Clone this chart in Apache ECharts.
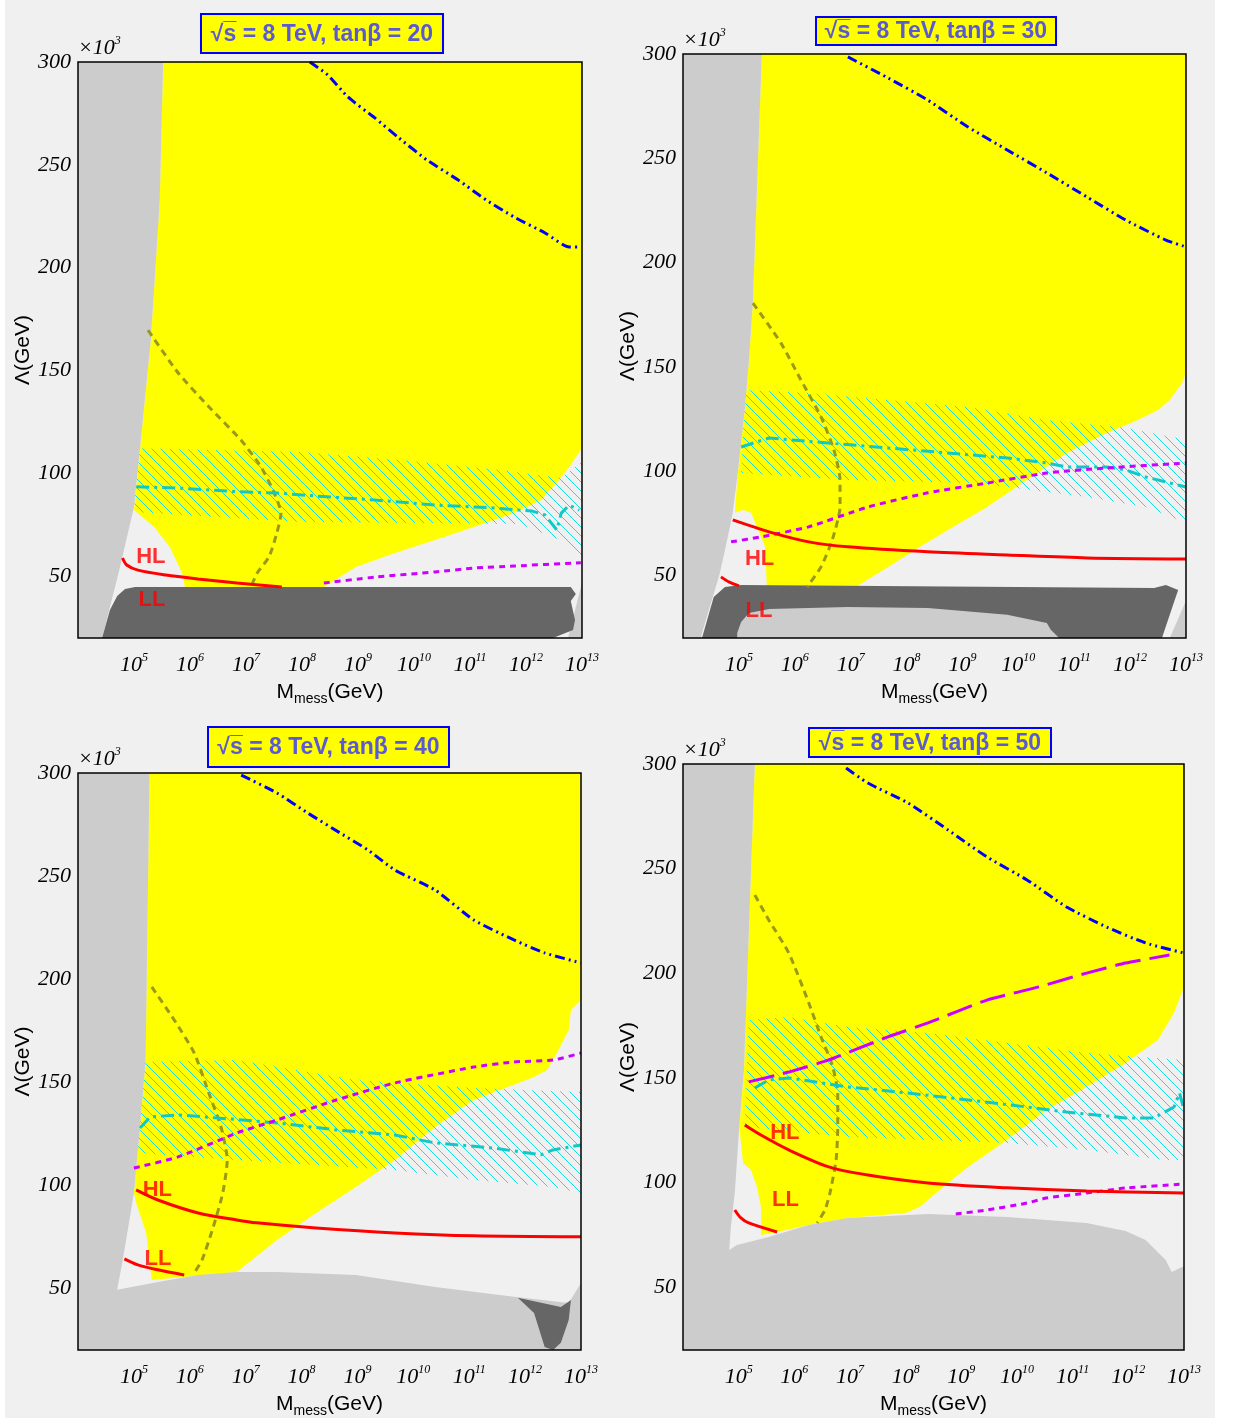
<!DOCTYPE html>
<html><head><meta charset="utf-8">
<script src="https://cdn.jsdelivr.net/npm/echarts@6/dist/echarts.min.js"></script>
<style>html,body{margin:0;padding:0;background:#fff}#c{width:1233px;height:1420px}</style>
</head><body><div id="c"></div>
<script>
// ---------- tick labels / categories ----------
const xTickExps = [5,6,7,8,9,10,11,12,13];
const yTicks = [50,100,150,200,250,300];
const panelTitles = ['20','30','40','50'];

// ---------- Panel 1 (tanβ = 20) ----------
const p1Grey = [[4,300],[5.52,300],[5.46,232.9],[5.30,164.9],[5.14,121.1],[5.0,83.7],[4.725,51.6],[4.43,20],[4,20]];
const p1GreyRight = [[12.75,20],[13,47],[13,20]];
const p1Dark = [[4.43,20],[4.57,33.6],[4.70,40.4],[4.84,43.8],[5.02,44.8],[12.80,44.8],[12.89,41.4],[12.80,38.0],[12.875,28.7],[12.84,23.9],[12.48,20]];
const p1Hole = [];
const p1Yellow = [[5.52,300],[13,300],[13,112.3],[12.77,103.1],[12.59,96.8],[12.27,87.1],[11.79,80.8],[11.07,73.9],[10.375,67.6],[9.66,61.3],[8.96,54.5],[8.39,44.8],[5.91,44.8],[5.86,51.6],[5.64,64.2],[5.36,73.9],[5.0,82.2],[5.14,121.1],[5.30,164.9],[5.46,232.9]];
const p1Hatch = [[5.04,112.3],[7.96,110.4],[9.75,106.5],[11.54,101.7],[12.61,97.8],[13,105.5],[13,59.8],[12.61,67.6],[11.89,75.4],[7.96,76.4],[5.0,81.2]];
const p1Blue = [[8.14,300],[8.46,293.7],[8.82,283.0],[9.30,272.8],[9.73,263.1],[10.23,252.4],[10.79,242.6],[11.29,232.9],[11.79,224.6],[12.34,216.9],[12.77,210.1],[12.98,210.1]];
const p1Olive = [[5.25,169.7],[5.79,148.8],[6.34,132.3],[6.91,116.2],[7.27,103.1],[7.48,91.9],[7.625,80.7],[7.55,71.0],[7.41,59.4],[7.20,51.6],[7.09,44.8]];
const p1Cyan = [[5.04,93.5],[5.79,92.9],[6.84,91.1],[7.55,90.5],[8.25,89.0],[9.30,87.1],[10.375,84.6],[11.43,83.2],[12.11,81.7],[12.34,79.8],[12.55,72.5],[12.63,80.7],[12.77,84.6],[12.95,82.2]];
const p1Magenta = [[8.39,46.7],[9.30,49.6],[10.375,52.1],[11.07,54.0],[11.79,55.0],[12.98,56.6]];
const p1MagentaLong = [];
const p1HL = [[4.795,58.9],[4.87,55.5],[5.07,53.0],[5.57,50.6],[6.14,48.7],[6.84,46.7],[7.64,44.8]];
const p1LL = [];
const p1Text = [[5.30,59.6,'HL'],[5.32,38.7,'LL']];

// ---------- Panel 2 (tanβ = 30) ----------
const p2Grey = [[4,300],[5.41,300],[5.25,180.6],[5.18,153.3],[5.11,130.8],[4.98,99.1],[4.89,80.0],[4.79,67.0],[4.66,51.2],[4.57,43.0],[4.34,22.4],[4.32,20],[4,20]];
const p2GreyRight = [[12.71,20],[13,37.8],[13,20]];
const p2Dark = [[4.34,20],[4.55,39.7],[4.75,44.5],[5.04,45.4],[12.43,44.0],[12.64,45.4],[12.86,43.0],[12.78,36.8],[12.57,20]];
const p2Hole = [[4.97,20],[4.97,22.4],[5.04,27.7],[5.18,32.0],[5.54,33.9],[6.95,34.9],[8.38,34.4],[9.80,31.1],[10.51,27.2],[10.58,23.9],[10.73,20]];
const p2Yellow = [[5.41,300],[13,300],[13,147.1],[12.93,142.3],[12.71,134.1],[12.50,129.3],[12.14,124.5],[11.58,118.3],[10.87,108.7],[10.15,95.8],[9.44,82.8],[8.74,71.8],[8.24,63.7],[7.67,54.1],[7.09,44.5],[5.50,44.5],[5.47,63.7],[5.32,73.3],[5.22,80.0],[5.07,81.4],[4.93,80.0],[4.98,99.1],[5.11,130.8],[5.18,153.3],[5.25,180.6]];
const p2Hatch = [[5.11,138.9],[6.25,137.5],[7.67,134.1],[9.10,130.8],[10.51,124.5],[11.94,120.7],[13,115.0],[13,75.2],[12.28,82.8],[11.23,87.6],[9.80,92.4],[9.10,94.3],[6.95,95.8],[5.04,99.1]];
const p2Blue = [[6.95,298.6],[7.67,288.5],[8.38,277.9],[9.10,265.0],[9.80,254.0],[10.51,243.0],[11.23,231.4],[11.92,220.4],[12.64,210.8],[13,207.5]];
const p2Olive = [[5.25,180.6],[5.75,161.5],[6.11,143.7],[6.47,126.0],[6.70,110.2],[6.81,95.8],[6.81,82.8],[6.67,67.0],[6.47,54.1],[6.22,44.5]];
const p2Cyan = [[5.04,111.6],[5.54,115.9],[6.59,113.5],[7.67,111.1],[8.74,108.7],[9.80,106.3],[10.51,103.9],[10.87,102.0],[11.58,102.0],[11.92,100.6],[12.28,97.2],[13,92.4]];
const p2Magenta = [[4.86,66.1],[5.40,68.5],[6.25,73.3],[7.31,82.8],[8.38,89.6],[9.44,94.3],[10.51,99.1],[11.58,101.5],[13,103.9]];
const p2MagentaLong = [];
const p2HL = [[4.89,76.6],[5.54,70.9],[6.25,66.1],[6.95,63.7],[8.38,61.3],[9.80,59.8],[11.23,58.4],[13,57.9]];
const p2LL = [[4.68,49.3],[4.82,46.9],[5.0,45.0]];
const p2Text = [[5.37,58.1,'HL'],[5.36,33.2,'LL']];

// ---------- Panel 3 (tanβ = 40) ----------
const p3Grey = [[4,300],[5.28,300],[5.21,160.7],[5.11,128.2],[5.0,96.2],[4.90,79.7],[4.80,63.7],[4.70,49.2],[5.43,53.0],[6.15,56.4],[6.84,57.9],[7.56,57.9],[8.97,56.4],[10.39,50.6],[11.80,45.8],[12.78,42.8],[13,52.5],[13,20],[4,20]];
const p3GreyRight = [];
const p3Dark = [[11.87,45.3],[12.64,40.9],[12.82,44.3],[12.78,34.6],[12.64,23.5],[12.50,20],[12.35,21.5],[12.16,37.9]];
const p3Hole = [];
const p3Yellow = [[5.28,300],[13,300],[13,189.9],[12.82,185.0],[12.78,175.3],[12.57,164.1],[12.39,155.9],[12.16,152.5],[11.08,141.3],[10.39,128.2],[9.67,112.2],[8.97,99.1],[8.26,86.5],[7.56,73.4],[6.84,57.9],[5.32,54.0],[5.22,76.8],[5.04,91.4],[5.0,96.2],[5.11,128.2],[5.21,160.7]];
const p3Hatch = [[5.14,159.8],[6.84,160.7],[8.97,151.0],[11.08,147.2],[13,145.2],[13,96.2],[12.50,99.1],[11.08,102.5],[9.67,107.4],[6.84,112.2],[5.07,115.6]];
const p3Blue = [[6.92,299.0],[7.56,290.3],[8.11,280.6],[8.69,270.9],[9.19,262.6],[9.67,252.9],[10.39,243.2],[11.08,228.7],[11.80,219.0],[12.35,212.7],[13,207.8]];
const p3Olive = [[5.32,196.2],[5.72,180.2],[6.08,164.1],[6.34,144.7],[6.56,128.2],[6.67,112.2],[6.59,96.2],[6.42,79.7],[6.22,63.7],[6.08,57.4]];
const p3Cyan = [[5.11,127.7],[5.29,133.1],[5.79,134.1],[6.49,132.6],[7.56,130.2],[8.62,126.8],[9.67,124.3],[10.39,120.5],[11.44,118.0],[12.28,114.7],[12.50,117.1],[13,119.5]];
const p3Magenta = [[5.0,108.3],[5.79,113.7],[6.84,125.3],[7.56,131.6],[8.62,141.3],[9.67,149.6],[11.08,157.3],[11.80,159.8],[12.50,160.7],[13,164.1]];
const p3MagentaLong = [];
const p3HL = [[5.04,97.7],[5.43,92.8],[6.15,86.5],[6.84,83.1],[7.20,81.7],[8.26,79.2],[9.67,76.8],[11.08,75.4],[13,74.9]];
const p3LL = [[4.83,64.2],[5.07,61.3],[5.43,58.9],[5.90,56.4]];
const p3Text = [[5.42,97.9,'HL'],[5.43,64.4,'LL']];

// ---------- Panel 4 (tanβ = 50) ----------
const p4Grey = [[4,300],[5.29,300],[5.095,153.8],[5.01,126.6],[4.93,95.0],[4.86,78.8],[4.83,67.8],[4.97,70.2],[5.54,74.0],[6.26,79.7],[6.96,83.1],[8.40,85.0],[9.82,83.6],[11.25,80.7],[11.95,76.9],[12.31,72.6],[12.67,63.0],[12.78,57.3],[12.96,59.7],[13,59.7],[13,20],[4,20]];
const p4GreyRight = [];
const p4Dark = [];
const p4Hole = [];
const p4Yellow = [[5.29,300],[13,300],[13,193.5],[12.82,181.0],[12.53,168.1],[11.95,157.1],[11.25,145.7],[10.53,134.7],[9.82,120.4],[9.12,107.5],[8.76,99.8],[8.25,88.3],[8.0,85.5],[6.96,83.1],[6.26,79.7],[5.69,76.4],[5.40,74.9],[5.40,88.3],[5.33,97.9],[5.22,106.0],[5.08,109.4],[5.01,126.6],[5.095,153.8]];
const p4Hatch = [[5.18,177.7],[5.90,179.1],[6.96,174.3],[8.40,171.5],[9.82,166.7],[11.25,161.9],[13,158.6],[13,110.8],[12.67,110.8],[11.25,115.6],[9.82,118.9],[8.40,120.4],[6.96,121.8],[5.11,126.6]];
const p4Blue = [[6.93,298.1],[7.32,290.9],[8.04,281.4],[8.76,268.5],[9.46,255.6],[10.18,244.6],[10.89,231.7],[11.61,222.1],[12.31,214.5],[13,209.7]];
const p4Olive = [[5.29,237.4],[5.54,225.5],[5.90,209.7],[6.26,185.8],[6.48,169.6],[6.68,156.2],[6.78,142.8],[6.78,126.6],[6.75,110.8],[6.64,95.0],[6.55,86.9],[6.41,80.7]];
const p4Cyan = [[5.29,145.2],[5.54,149.0],[5.90,150.0],[6.96,145.7],[8.04,142.8],[9.12,139.5],[10.18,136.1],[10.89,133.7],[11.95,130.9],[12.46,130.9],[12.82,136.1],[12.92,142.8],[13,134.7]];
const p4Magenta = [[8.90,85.0],[9.46,86.9],[10.18,90.2],[10.53,92.6],[11.25,95.0],[11.95,97.4],[13,99.3]];
const p4MagentaLong = [[5.18,148.1],[5.90,152.8],[6.62,158.6],[7.68,169.6],[8.40,176.3],[9.46,187.2],[10.39,193.5],[11.25,200.1],[11.95,204.9],[12.74,208.7]];
const p4HL = [[5.11,127.5],[5.40,122.7],[5.90,115.6],[6.62,107.5],[7.32,103.6],[8.40,99.8],[9.82,97.5],[11.25,96.0],[13,95.0]];
const p4LL = [[4.93,86.9],[5.04,83.1],[5.18,80.7],[5.69,76.4]];
const p4Text = [[5.83,123.9,'HL'],[5.84,91.9,'LL']];

// ---------- layout ----------
const grids = [
  {left:78, top:62, width:504, height:576},
  {left:683, top:54, width:503, height:584},
  {left:78, top:773, width:503, height:577},
  {left:683, top:764, width:501, height:586}
];
const titleBoxes = [
  {x:201, y:14, w:242, h:39},
  {x:816, y:17, w:240, h:28},
  {x:208, y:727, w:241, h:40},
  {x:809, y:728, w:242, h:29}
];
const panels = [
  {grey:p1Grey, greyR:p1GreyRight, dark:p1Dark, hole:p1Hole, yellow:p1Yellow, hatch:p1Hatch, blue:p1Blue, olive:p1Olive, cyan:p1Cyan, mag:p1Magenta, magL:p1MagentaLong, hl:p1HL, ll:p1LL, text:p1Text},
  {grey:p2Grey, greyR:p2GreyRight, dark:p2Dark, hole:p2Hole, yellow:p2Yellow, hatch:p2Hatch, blue:p2Blue, olive:p2Olive, cyan:p2Cyan, mag:p2Magenta, magL:p2MagentaLong, hl:p2HL, ll:p2LL, text:p2Text},
  {grey:p3Grey, greyR:p3GreyRight, dark:p3Dark, hole:p3Hole, yellow:p3Yellow, hatch:p3Hatch, blue:p3Blue, olive:p3Olive, cyan:p3Cyan, mag:p3Magenta, magL:p3MagentaLong, hl:p3HL, ll:p3LL, text:p3Text},
  {grey:p4Grey, greyR:p4GreyRight, dark:p4Dark, hole:p4Hole, yellow:p4Yellow, hatch:p4Hatch, blue:p4Blue, olive:p4Olive, cyan:p4Cyan, mag:p4Magenta, magL:p4MagentaLong, hl:p4HL, ll:p4LL, text:p4Text}
];

function makeHatch(){
  const c = document.createElement('canvas'); c.width = 9; c.height = 9;
  const g = c.getContext('2d');
  g.strokeStyle = '#19e0e0'; g.lineWidth = 1;
  g.beginPath(); g.moveTo(-1,-1); g.lineTo(10,10); g.stroke();
  return c;
}
const hatchFill = {image: makeHatch(), repeat: 'repeat'};

const BG = '#f0f0f0', LGREY = '#cccccc', DGREY = '#666666', YEL = '#ffff00';

function poly(g, pts, fill){
  return {type:'custom', xAxisIndex:g, yAxisIndex:g, data:pts, silent:true, animation:false, clip:true,
    renderItem:function(params, api){
      if (params.dataIndex !== 0) return null;
      const ps = pts.map(p => api.coord(p));
      return {type:'polygon', shape:{points:ps}, style:{fill:fill, stroke:null}};
    }};
}
function line(g, pts, color, type, width, smooth){
  return {type:'line', xAxisIndex:g, yAxisIndex:g, data:pts, symbol:'none', showSymbol:false, silent:true, animation:false,
    smooth: smooth || false, lineStyle:{color:color, width:width, type:type, cap:'butt'}, z:5};
}

const xAxes = [], yAxes = [], series = [], graphics = [];
graphics.push({type:'rect', shape:{x:5, y:0, width:1210, height:1418}, style:{fill:BG}, z:-10, silent:true});

grids.forEach((gr, i) => {
  xAxes.push({type:'value', gridIndex:i, min:4, max:13,
    axisLine:{show:false}, axisTick:{show:false}, splitLine:{show:false},
    axisLabel:{customValues:xTickExps, margin:14,
      formatter:function(v){ return '{b|10}{p|' + v + '}'; },
      rich:{ b:{fontFamily:'Liberation Serif', fontStyle:'italic', fontSize:22, color:'#000'},
             p:{fontFamily:'Liberation Serif', fontStyle:'italic', fontSize:12, color:'#000', padding:[0,0,14,0]} } },
    name:'{m|M}{s|mess}{m|(GeV)}', nameLocation:'middle', nameGap:40,
    nameTextStyle:{rich:{ m:{fontFamily:'Liberation Sans', fontSize:21, color:'#000'},
                          s:{fontFamily:'Liberation Sans', fontSize:14, color:'#000', padding:[14,0,0,0]} }}
  });
  yAxes.push({type:'value', gridIndex:i, min:20, max:300,
    axisLine:{show:false}, axisTick:{show:false}, splitLine:{show:false},
    axisLabel:{customValues:yTicks, margin:7, fontFamily:'Liberation Serif', fontStyle:'italic', fontSize:22, color:'#000'},
    name:'Λ(GeV)', nameLocation:'middle', nameGap:44, nameRotate:90,
    nameTextStyle:{fontFamily:'Liberation Sans', fontSize:21, color:'#000'}
  });
  const P = panels[i];
  series.push(poly(i, P.yellow, YEL));
  series.push(poly(i, P.hatch, hatchFill));
  series.push(poly(i, P.grey, LGREY));
  if (P.greyR.length) series.push(poly(i, P.greyR, LGREY));
  if (P.dark.length) series.push(poly(i, P.dark, DGREY));
  if (P.hole.length) series.push(poly(i, P.hole, LGREY));
  series.push(line(i, P.olive, '#9a9a1a', [7,5], 3, 0.2));
  series.push(line(i, P.cyan, '#10c8c8', [13,5,3,5], 3, false));
  series.push(line(i, P.blue, '#0000ff', [10,4,2,4,2,4], 3, 0.2));
  series.push(line(i, P.mag, '#cc00ff', [6,5], 3, 0.2));
  if (P.magL.length) series.push(line(i, P.magL, '#cc00ff', [26,9], 3, 0.15));
  series.push(line(i, P.hl, '#ff0000', 'solid', 3, 0.3));
  if (P.ll.length) series.push(line(i, P.ll, '#ff0000', 'solid', 3, 0.3));
  series.push({type:'scatter', xAxisIndex:i, yAxisIndex:i, silent:true, animation:false, z:6,
    data:P.text.map(t => ({value:[t[0], t[1]], name:t[2]})), symbolSize:1, itemStyle:{color:'rgba(0,0,0,0)'},
    label:{show:true, position:'inside', formatter:'{b}', fontFamily:'Liberation Sans', fontWeight:'bold', fontSize:22, color:'#ff0000'}});

  // plot frame
  graphics.push({type:'rect', shape:{x:gr.left, y:gr.top, width:gr.width, height:gr.height},
    style:{fill:null, stroke:'#000', lineWidth:1.5}, z:100, silent:true});
  // ×10^3
  graphics.push({type:'text', x:gr.left, y:gr.top - 1, z:100, silent:true,
    style:{text:'{a|×10}{e|3}', textVerticalAlign:'bottom', textAlign:'left',
      rich:{a:{fontFamily:'Liberation Serif', fontStyle:'italic', fontSize:22, color:'#000'},
            e:{fontFamily:'Liberation Serif', fontStyle:'italic', fontSize:12, color:'#000', padding:[0,0,14,0]}}}});
  // title box
  const tb = titleBoxes[i];
  graphics.push({type:'rect', shape:{x:tb.x, y:tb.y, width:tb.w, height:tb.h},
    style:{fill:YEL, stroke:'#0000ff', lineWidth:2}, z:100, silent:true});
  graphics.push({type:'text', x:tb.x + tb.w/2, y:tb.y + tb.h/2 + 1, z:101, silent:true,
    style:{text:'√s̅ = 8 TeV, tanβ = ' + panelTitles[i], textAlign:'center', textVerticalAlign:'middle',
      fontFamily:'Liberation Sans', fontWeight:'bold', fontSize:23, fill:'#5a5ad2'}});
});

const chart = echarts.init(document.getElementById('c'), null, {renderer:'canvas'});
chart.setOption({
  backgroundColor:'#ffffff',
  animation:false,
  grid: grids.map(g => Object.assign({show:false, containLabel:false}, g)),
  xAxis: xAxes, yAxis: yAxes, series: series, graphic: graphics
});
</script></body></html>
